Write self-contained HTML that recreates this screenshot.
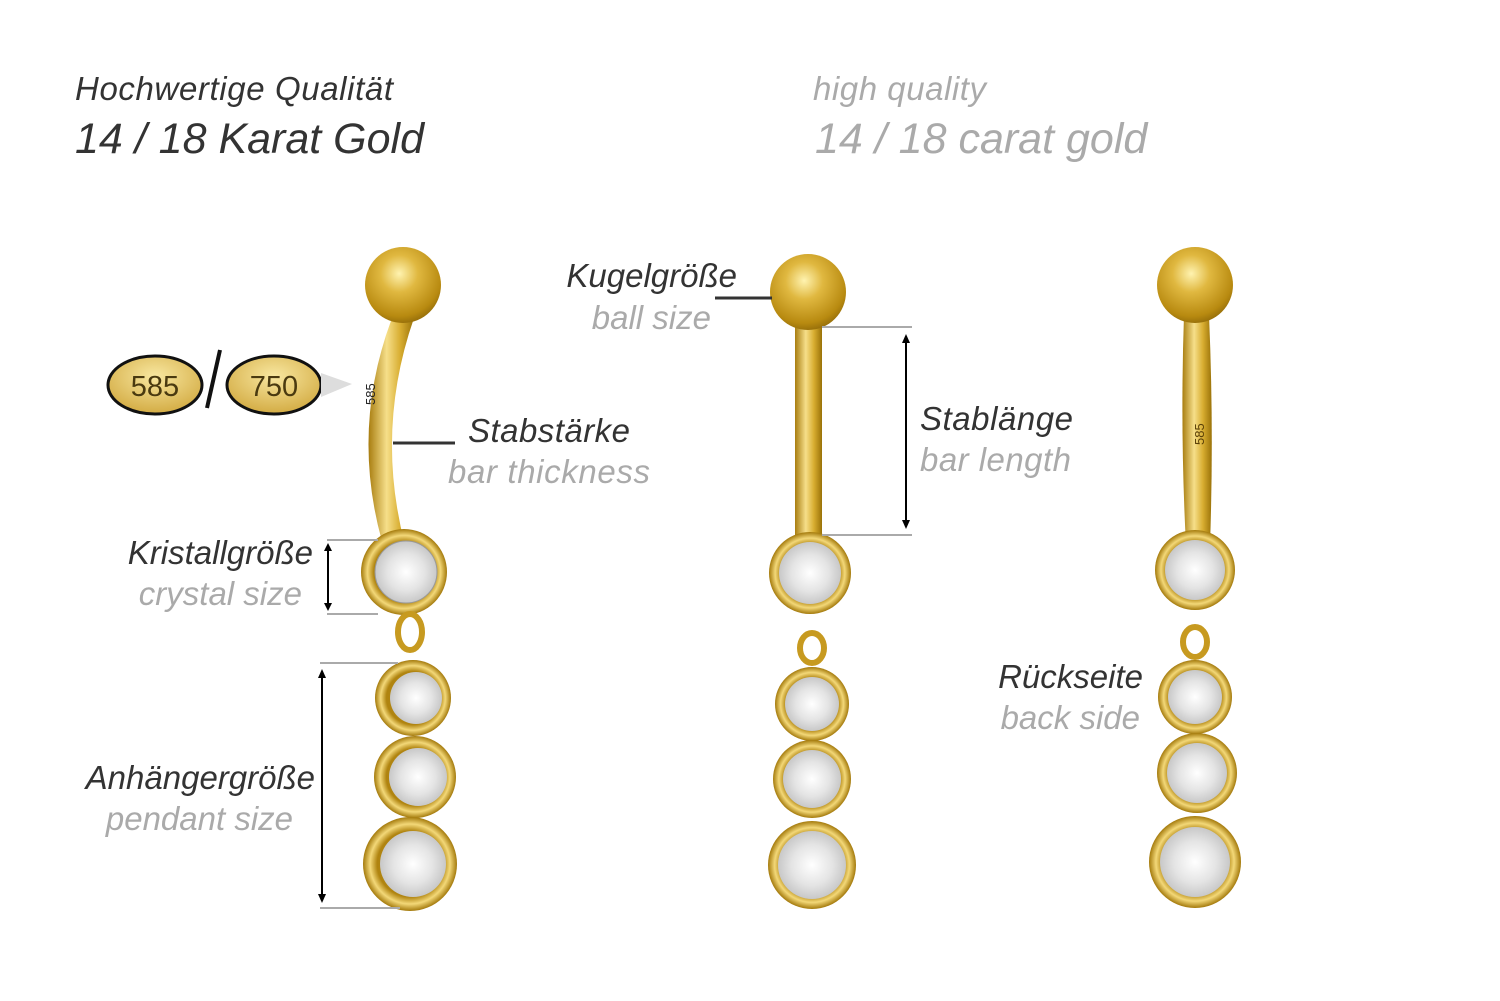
<!DOCTYPE html>
<html><head><meta charset="utf-8"><style>
html,body{margin:0;padding:0;background:#fff;width:1500px;height:1001px;overflow:hidden}
svg text{font-family:"Liberation Sans",sans-serif;font-style:italic}
.d{fill:#333}.g{fill:#aaa}
</style></head><body>
<svg width="1500" height="1001" viewBox="0 0 1500 1001" xmlns="http://www.w3.org/2000/svg">
<defs>
<radialGradient id="ball" cx="0.45" cy="0.35" r="0.7"><stop offset="0" stop-color="#fff3b0"/><stop offset="0.35" stop-color="#e0b840"/><stop offset="0.8" stop-color="#b88a10"/><stop offset="1" stop-color="#8a6508"/></radialGradient>
<linearGradient id="bar" x1="0" x2="1"><stop offset="0" stop-color="#a87d10"/><stop offset="0.4" stop-color="#f6df8a"/><stop offset="0.7" stop-color="#d8ad30"/><stop offset="1" stop-color="#9a7208"/></linearGradient>
<radialGradient id="rim" cx="0.5" cy="0.5" r="0.5"><stop offset="0.7" stop-color="#b08410"/><stop offset="0.85" stop-color="#f3d878"/><stop offset="1" stop-color="#a47a0c"/></radialGradient>
<radialGradient id="gem" cx="0.5" cy="0.5" r="0.5"><stop offset="0" stop-color="#fff"/><stop offset="0.6" stop-color="#e4e4e4"/><stop offset="1" stop-color="#c8c8c8"/></radialGradient>
<radialGradient id="oval" cx="0.5" cy="0.35" r="0.6"><stop offset="0" stop-color="#f8e7a0"/><stop offset="1" stop-color="#d6b04a"/></radialGradient>
</defs>

<text x="75" y="100" font-size="33" class="d" textLength="318">Hochwertige Qualität</text>
<text x="75" y="153" font-size="43" class="d">14 / 18 Karat Gold</text>
<text x="813" y="100" font-size="33" class="g" textLength="173">high quality</text>
<text x="815" y="153" font-size="43" class="g">14 / 18 carat gold</text>

<!-- LEFT piece -->
<path d="M392 318 Q350 430 383 545 L405 545 Q375 430 414 318 Z" fill="url(#bar)"/>
<text transform="translate(375,405) rotate(-90)" font-size="13" style="font-style:normal" fill="#222">585</text>
<circle cx="403" cy="285" r="38" fill="url(#ball)"/>
<circle cx="404" cy="572" r="43" fill="url(#rim)"/><circle cx="406" cy="572" r="31" fill="url(#gem)" stroke="#999" stroke-width="1"/>
<ellipse cx="410" cy="632" rx="12" ry="18" fill="none" stroke="#c79a20" stroke-width="6"/>
<circle cx="413" cy="698" r="38" fill="url(#rim)"/><circle cx="416" cy="698" r="26" fill="url(#gem)"/>
<circle cx="415" cy="777" r="41" fill="url(#rim)"/><circle cx="418" cy="777" r="29" fill="url(#gem)"/>
<circle cx="410" cy="864" r="47" fill="url(#rim)"/><circle cx="413" cy="864" r="33" fill="url(#gem)"/>

<ellipse cx="155" cy="385" rx="47" ry="29" fill="url(#oval)" stroke="#111" stroke-width="3"/>
<text x="155" y="396" font-size="29" text-anchor="middle" style="font-style:normal" fill="#4a3a10">585</text>
<line x1="220" y1="350" x2="207" y2="408" stroke="#111" stroke-width="4"/>
<ellipse cx="274" cy="385" rx="47" ry="29" fill="url(#oval)" stroke="#111" stroke-width="3"/>
<text x="274" y="396" font-size="29" text-anchor="middle" style="font-style:normal" fill="#4a3a10">750</text>
<polygon points="321,373 352,384 321,397" fill="#ddd"/>

<line x1="393" y1="443" x2="455" y2="443" stroke="#333" stroke-width="3"/>
<text x="468" y="442" font-size="33" class="d" textLength="162">Stabstärke</text>
<text x="448" y="483" font-size="33" class="g" textLength="202">bar thickness</text>

<line x1="327" y1="540" x2="378" y2="540" stroke="#aaa" stroke-width="2"/>
<line x1="327" y1="614" x2="378" y2="614" stroke="#aaa" stroke-width="2"/>
<line x1="328" y1="545" x2="328" y2="609" stroke="#000" stroke-width="2"/>
<polygon points="328,543 324,551 332,551" fill="#000"/><polygon points="328,611 324,603 332,603" fill="#000"/>
<text x="313" y="564" font-size="33" text-anchor="end" class="d">Kristallgröße</text>
<text x="302" y="605" font-size="33" text-anchor="end" class="g">crystal size</text>

<line x1="320" y1="663" x2="398" y2="663" stroke="#aaa" stroke-width="2"/>
<line x1="320" y1="908" x2="400" y2="908" stroke="#aaa" stroke-width="2"/>
<line x1="322" y1="672" x2="322" y2="900" stroke="#000" stroke-width="2"/>
<polygon points="322,669 318,678 326,678" fill="#000"/><polygon points="322,903 318,894 326,894" fill="#000"/>
<text x="315" y="789" font-size="33" text-anchor="end" class="d">Anhängergröße</text>
<text x="293" y="830" font-size="33" text-anchor="end" class="g">pendant size</text>

<!-- MIDDLE piece -->
<rect x="795" y="318" width="27" height="225" fill="url(#bar)"/>
<circle cx="808" cy="292" r="38" fill="url(#ball)"/>
<circle cx="810" cy="573" r="41" fill="url(#rim)"/><circle cx="810" cy="573" r="31" fill="url(#gem)"/>
<ellipse cx="812" cy="648" rx="12" ry="15" fill="none" stroke="#c79a20" stroke-width="6"/>
<circle cx="812" cy="704" r="37" fill="url(#rim)"/><circle cx="812" cy="704" r="27" fill="url(#gem)"/>
<circle cx="812" cy="779" r="39" fill="url(#rim)"/><circle cx="812" cy="779" r="29" fill="url(#gem)"/>
<circle cx="812" cy="865" r="44" fill="url(#rim)"/><circle cx="812" cy="865" r="34" fill="url(#gem)"/>

<line x1="715" y1="298" x2="772" y2="298" stroke="#333" stroke-width="3"/>
<text x="737" y="287" font-size="33" text-anchor="end" class="d">Kugelgröße</text>
<text x="711" y="329" font-size="33" text-anchor="end" class="g">ball size</text>
<line x1="822" y1="327" x2="912" y2="327" stroke="#aaa" stroke-width="2"/>
<line x1="822" y1="535" x2="912" y2="535" stroke="#aaa" stroke-width="2"/>
<line x1="906" y1="338" x2="906" y2="525" stroke="#000" stroke-width="2"/>
<polygon points="906,334 902,343 910,343" fill="#000"/><polygon points="906,529 902,520 910,520" fill="#000"/>
<text x="920" y="430" font-size="33" class="d" textLength="153">Stablänge</text>
<text x="920" y="471" font-size="33" class="g" textLength="151">bar length</text>

<!-- RIGHT piece -->
<path d="M1184 315 Q1180 430 1186 545 L1210 545 Q1214 430 1209 315 Z" fill="url(#bar)"/>
<text transform="translate(1204,445) rotate(-90)" font-size="13" style="font-style:normal" fill="#5a4008">585</text>
<circle cx="1195" cy="285" r="38" fill="url(#ball)"/>
<circle cx="1195" cy="570" r="40" fill="url(#rim)"/><circle cx="1195" cy="570" r="30" fill="url(#gem)"/>
<ellipse cx="1195" cy="642" rx="12" ry="15" fill="none" stroke="#c79a20" stroke-width="6"/>
<circle cx="1195" cy="697" r="37" fill="url(#rim)"/><circle cx="1195" cy="697" r="27" fill="url(#gem)"/>
<circle cx="1197" cy="773" r="40" fill="url(#rim)"/><circle cx="1197" cy="773" r="30" fill="url(#gem)"/>
<circle cx="1195" cy="862" r="46" fill="url(#rim)"/><circle cx="1195" cy="862" r="35" fill="url(#gem)"/>
<text x="1143" y="688" font-size="33" text-anchor="end" class="d">Rückseite</text>
<text x="1140" y="729" font-size="33" text-anchor="end" class="g">back side</text>
</svg>
</body></html>
